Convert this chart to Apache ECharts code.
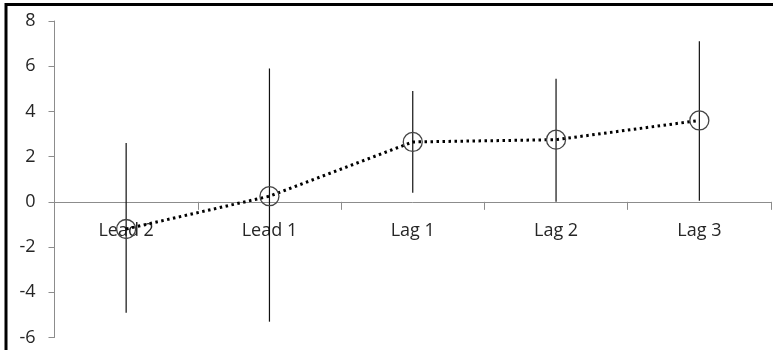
<!DOCTYPE html>
<html>
<head>
<meta charset="utf-8">
<script src="https://cdn.jsdelivr.net/npm/echarts@6/dist/echarts.min.js"></script>
<style>
html,body{margin:0;padding:0;background:#fff;}
#chart{width:773px;height:350px;}
</style>
</head>
<body>
<div id="chart"></div>
<script>
const categories = ['Lead 2', 'Lead 1', 'Lag 1', 'Lag 2', 'Lag 3'];
const estimates = [-1.2, 0.25, 2.65, 2.75, 3.6];
const lower = [-4.9, -5.3, 0.4, 0.0, 0.05];
const upper = [2.6, 5.9, 4.9, 5.45, 7.1];
const yTicks = { min: -6, max: 8, interval: 2 };

const errData = categories.map((c, i) => [i, lower[i], upper[i]]);

const gridTop = 21, gridBottom = 12.5, H = 350;
const plotH = H - gridTop - gridBottom;
// distance of value 0 above the bottom of the plot area
const zeroOffset = plotH * (0 - yTicks.min) / (yTicks.max - yTicks.min);

const chart = echarts.init(document.getElementById('chart'));
chart.setOption({
  backgroundColor: '#fff',
  animation: false,
  grid: { left: 54.5, right: 2, top: gridTop, bottom: gridBottom, containLabel: false, outerBoundsMode: 'none' },
  graphic: [
    { type: 'line', shape: { x1: 6, y1: 4.5, x2: 773, y2: 4.5 }, style: { stroke: '#000', lineWidth: 3 } },
    { type: 'line', shape: { x1: 6, y1: 3, x2: 6, y2: 350 }, style: { stroke: '#000', lineWidth: 3 } }
  ],
  xAxis: {
    type: 'category',
    data: categories,
    boundaryGap: true,
    position: 'bottom',
    offset: -zeroOffset,
    axisLine: { onZero: false, lineStyle: { color: '#8c8c8c', width: 1 } },
    axisTick: { show: true, alignWithLabel: false, length: 8, lineStyle: { color: '#8c8c8c' } },
    axisLabel: { margin: 20, color: '#262626', fontSize: 18, fontFamily: 'Open Sans' },
    splitLine: { show: false }
  },
  yAxis: {
    type: 'value',
    min: yTicks.min, max: yTicks.max, interval: yTicks.interval,
    axisLine: { show: true, lineStyle: { color: '#8c8c8c', width: 1 } },
    axisTick: { show: true, length: 6, lineStyle: { color: '#8c8c8c' } },
    axisLabel: { margin: 19, color: '#262626', fontSize: 18, fontFamily: 'Open Sans' },
    splitLine: { show: false }
  },
  series: [
    {
      type: 'custom',
      data: errData,
      z: 3,
      renderItem: function (params, api) {
        const x = api.value(0);
        const lo = api.coord([x, api.value(1)]);
        const hi = api.coord([x, api.value(2)]);
        return {
          type: 'line',
          shape: { x1: lo[0], y1: lo[1], x2: hi[0], y2: hi[1] },
          style: { stroke: '#111', lineWidth: 1.2 }
        };
      }
    },
    {
      type: 'line',
      data: estimates,
      z: 4,
      symbol: 'circle',
      symbolSize: 19,
      showSymbol: true,
      lineStyle: { color: '#000', width: 3, type: [2.5, 3.5] },
      itemStyle: { color: 'rgba(0,0,0,0)', borderColor: '#444', borderWidth: 1.3 }
    }
  ]
});
</script>
</body>
</html>
